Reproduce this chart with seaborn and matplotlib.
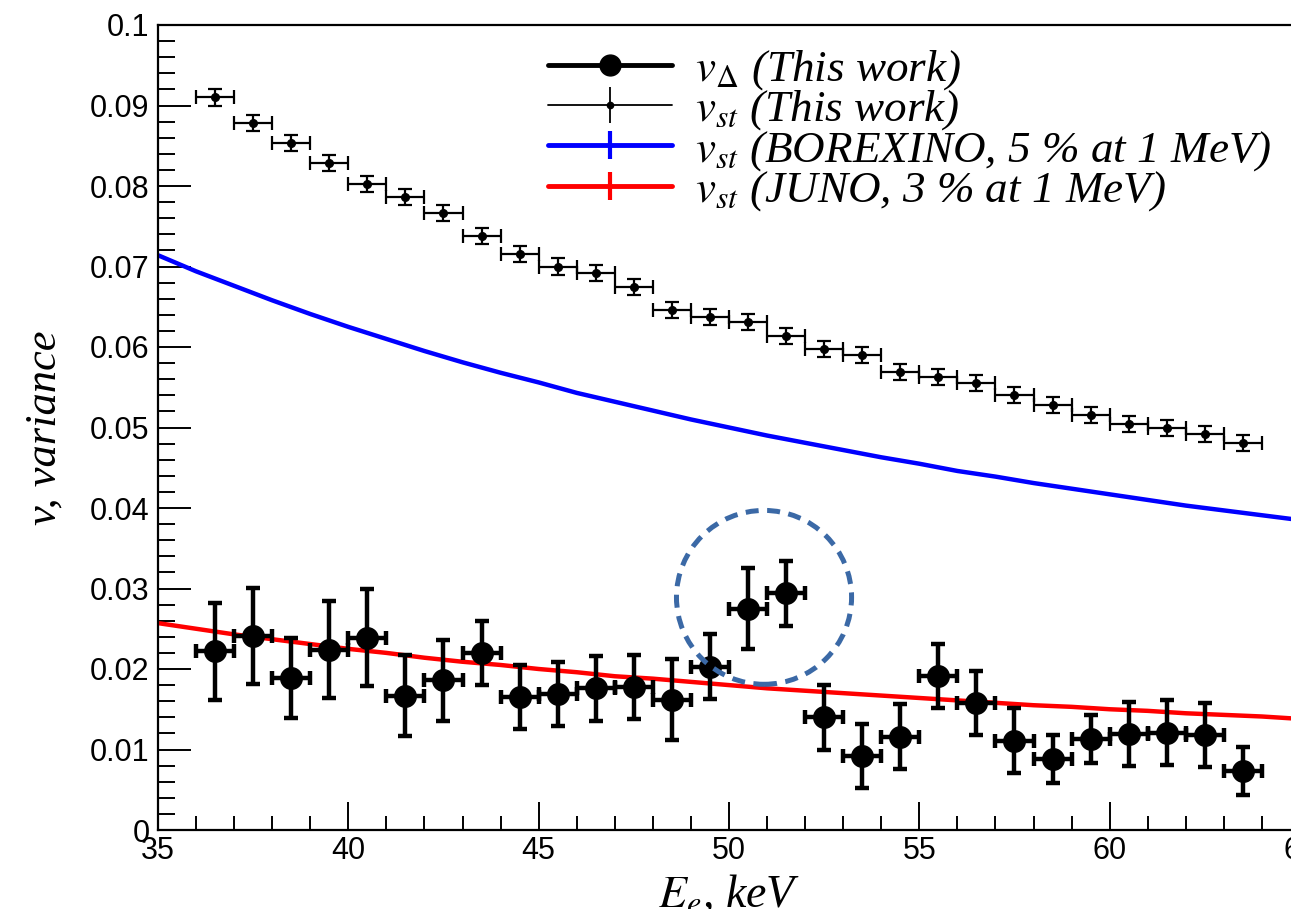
import numpy as np
import pandas as pd
import matplotlib
matplotlib.use("Agg")
import matplotlib.pyplot as plt
import seaborn as sns
from matplotlib.lines import Line2D
from matplotlib.patches import Ellipse
from matplotlib.ticker import FixedLocator, MultipleLocator

# ---------------- data ----------------
energy_bins = [36.5, 37.5, 38.5, 39.5, 40.5, 41.5, 42.5, 43.5, 44.5, 45.5,
               46.5, 47.5, 48.5, 49.5, 50.5, 51.5, 52.5, 53.5, 54.5, 55.5,
               56.5, 57.5, 58.5, 59.5, 60.5, 61.5, 62.5, 63.5]
bin_half_width = [0.5] * len(energy_bins)

v_delta = [0.0222, 0.0241, 0.0189, 0.0224, 0.0239, 0.0167, 0.0186, 0.0220,
           0.0165, 0.0169, 0.0176, 0.0178, 0.0162, 0.0203, 0.0275, 0.0294,
           0.0140, 0.0092, 0.0116, 0.0191, 0.0158, 0.0111, 0.0088, 0.0113,
           0.0119, 0.0121, 0.0118, 0.0073]
v_delta_err = [0.006, 0.006, 0.005, 0.006, 0.006, 0.005, 0.005, 0.004,
               0.004, 0.004, 0.004, 0.004, 0.005, 0.004, 0.005, 0.004,
               0.004, 0.004, 0.004, 0.004, 0.004, 0.004, 0.003, 0.003,
               0.004, 0.004, 0.004, 0.003]

v_st = [0.0910, 0.0878, 0.0853, 0.0829, 0.0802, 0.0786, 0.0766, 0.0738,
        0.0715, 0.0700, 0.0692, 0.0675, 0.0646, 0.0637, 0.0631, 0.0614,
        0.0598, 0.0590, 0.0569, 0.0563, 0.0555, 0.0540, 0.0528, 0.0516,
        0.0504, 0.0499, 0.0492, 0.0481]
v_st_err = [0.0010] * len(v_st)

curve_energy = [35, 36, 37, 38, 39, 40, 41, 42, 43, 44, 45, 46, 47, 48, 49, 50,
                51, 52, 53, 54, 55, 56, 57, 58, 59, 60, 61, 62, 63, 64, 65]
borexino = [0.0714, 0.0694, 0.0676, 0.0658, 0.0641, 0.0625, 0.0610, 0.0595,
            0.0581, 0.0568, 0.0556, 0.0543, 0.0532, 0.0521, 0.0510, 0.0500,
            0.0490, 0.0481, 0.0472, 0.0463, 0.0455, 0.0446, 0.0439, 0.0431,
            0.0424, 0.0417, 0.0410, 0.0403, 0.0397, 0.0391, 0.0385]
juno = [0.0257, 0.0250, 0.0243, 0.0237, 0.0231, 0.0225, 0.0220, 0.0214,
        0.0209, 0.0205, 0.0200, 0.0196, 0.0191, 0.0188, 0.0184, 0.0180,
        0.0176, 0.0173, 0.0170, 0.0167, 0.0164, 0.0161, 0.0158, 0.0155,
        0.0153, 0.0150, 0.0148, 0.0145, 0.0143, 0.0141, 0.0138]

x_ticks = [35, 40, 45, 50, 55, 60, 65]
x_tick_labels = ["35", "40", "45", "50", "55", "60", "65"]
y_ticks = [0.0, 0.01, 0.02, 0.03, 0.04, 0.05, 0.06, 0.07, 0.08, 0.09, 0.1]
y_tick_labels = ["0", "0.01", "0.02", "0.03", "0.04", "0.05", "0.06",
                 "0.07", "0.08", "0.09", "0.1"]

legend_labels = [r"$v_{\Delta}$ (This work)",
                 r"$v_{st}$ (This work)",
                 r"$v_{st}$ (BOREXINO, 5 % at 1 MeV)",
                 r"$v_{st}$ (JUNO, 3 % at 1 MeV)"]

# ---------------- style ----------------
sns.set_theme(style="ticks")
plt.rcParams["font.family"] = ["Liberation Sans", "DejaVu Sans"]
plt.rcParams["mathtext.fontset"] = "stix"
plt.rcParams["text.color"] = "black"
plt.rcParams["axes.labelcolor"] = "black"

fig = plt.figure(figsize=(12.91, 9.09), dpi=100)
fig.patch.set_facecolor("white")
W, H = 1291, 909
left_px, right_px, top_px, bottom_px = 158, 1300, 25, 830
ax = fig.add_axes([left_px / W, (H - bottom_px) / H,
                   (right_px - left_px) / W, (bottom_px - top_px) / H])
ax.set_facecolor("white")

curves = pd.DataFrame({"E": curve_energy, "borexino": borexino, "juno": juno})
sns.lineplot(data=curves, x="E", y="borexino", color="#0000ff", lw=3.2,
             ax=ax, zorder=2)
sns.lineplot(data=curves, x="E", y="juno", color="#ff0000", lw=3.2,
             ax=ax, zorder=2)

ax.errorbar(energy_bins, v_st, xerr=bin_half_width, yerr=v_st_err, fmt="o",
            color="black", ms=5.5, elinewidth=1.6, capsize=5, capthick=1.6,
            zorder=3)
ax.errorbar(energy_bins, v_delta, xerr=bin_half_width, yerr=v_delta_err,
            fmt="o", color="black", ms=15.5, elinewidth=3.2, capsize=5,
            capthick=3.2, zorder=4)

# dashed highlight circle
ax.add_patch(Ellipse((50.92, 0.0289), width=4.6, height=0.0216, fill=False,
                     ec="#3b69a6", lw=3.6, ls=(0, (2.6, 1.7)), zorder=5))

ax.set_xlim(35, 65)
ax.set_ylim(0, 0.1)
ax.xaxis.set_major_locator(FixedLocator(x_ticks))
ax.set_xticklabels(x_tick_labels)
ax.xaxis.set_minor_locator(MultipleLocator(1))
ax.yaxis.set_major_locator(FixedLocator(y_ticks))
ax.set_yticklabels(y_tick_labels)
ax.yaxis.set_minor_locator(MultipleLocator(0.002))

ax.tick_params(axis="both", which="both", direction="in", color="black",
               labelcolor="black", labelsize=22)
ax.tick_params(axis="y", which="major", length=24, width=1.4, pad=6)
ax.tick_params(axis="y", which="minor", length=12, width=1.4)
ax.tick_params(axis="x", which="major", length=20, width=1.4, pad=4)
ax.tick_params(axis="x", which="minor", length=10, width=1.4)
for s in ["left", "bottom", "top", "right"]:
    ax.spines[s].set_visible(True)
    ax.spines[s].set_linewidth(1.6)
    ax.spines[s].set_color("black")

ax.set_xlabel(r"$E_e$, keV", fontsize=33, family="Liberation Serif",
              style="italic", color="black")
ax.xaxis.set_label_coords(0.5, -0.096)
ax.xaxis.label.set_va("baseline")
ax.set_ylabel("v, variance", fontsize=32, family="Liberation Serif",
              style="italic", color="black")
ax.yaxis.set_label_coords(-0.099, 0.5)
ax.yaxis.label.set_va("center")

# legend
h1 = (Line2D([], [], color="black", lw=3.5),
      Line2D([], [], color="black", marker="o", ms=15, ls="none"))
h2 = (Line2D([], [], color="black", lw=1.3),
      Line2D([], [], color="black", marker="|", ms=26, mew=1.3, ls="none"),
      Line2D([], [], color="black", marker="o", ms=4.5, ls="none"))
h3 = (Line2D([], [], color="#0000ff", lw=3.5),
      Line2D([], [], color="#0000ff", marker="|", ms=20, mew=3, ls="none"))
h4 = (Line2D([], [], color="#ff0000", lw=3.5),
      Line2D([], [], color="#ff0000", marker="|", ms=20, mew=3, ls="none"))
leg = ax.legend([h1, h2, h3, h4], legend_labels, loc="upper left",
                bbox_to_anchor=((548 - left_px) / (right_px - left_px),
                                1 - (48 - top_px) / (bottom_px - top_px)),
                frameon=False, handlelength=2.75, handletextpad=0.5,
                labelspacing=-0.08, borderpad=0, borderaxespad=0,
                labelcolor="black",
                prop={"family": "Liberation Serif", "style": "italic",
                      "size": 32.5})

fig.savefig("out.png", dpi=100, facecolor="white")
